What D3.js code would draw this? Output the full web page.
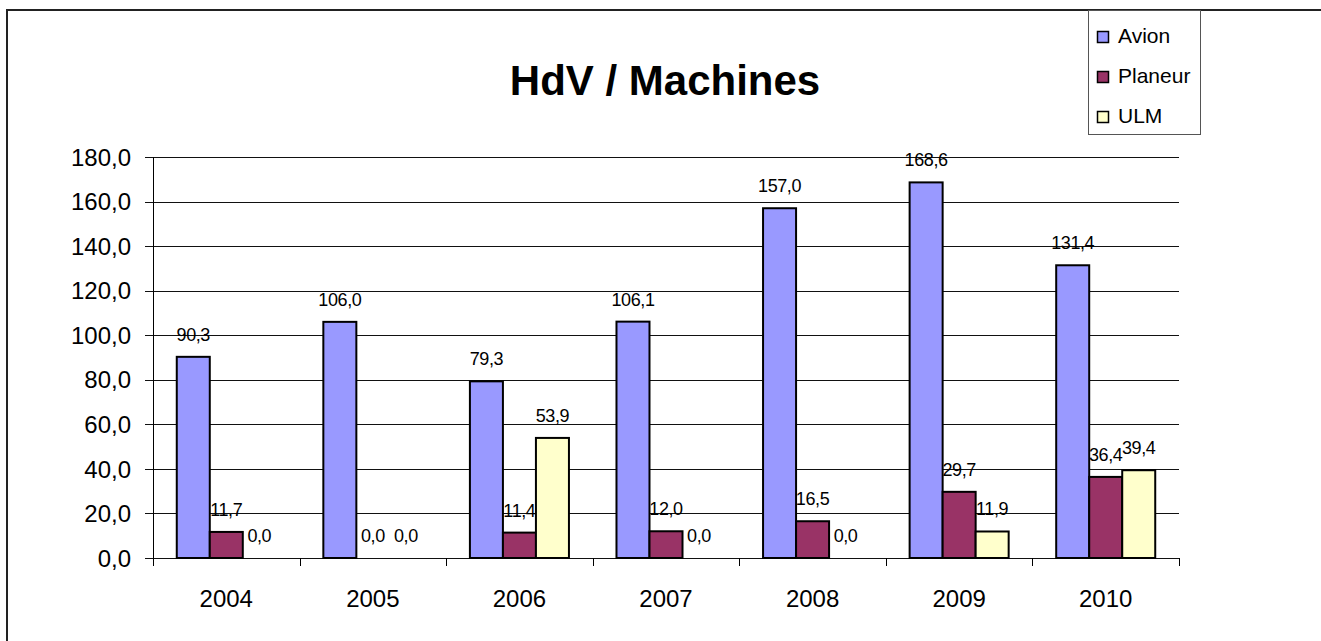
<!DOCTYPE html>
<html>
<head>
<meta charset="utf-8">
<script src="https://cdn.jsdelivr.net/npm/d3@7"></script>
<style>
  body { margin: 0; background: #fff; }
  svg { display: block; font-family: "Liberation Sans", Arial, sans-serif; }
</style>
</head>
<body>
<svg id="chart"></svg>
<script>
const width = 1321;
const height = 641;

// data
const years = ["2004", "2005", "2006", "2007", "2008", "2009", "2010"];
const series = ["Avion", "Planeur", "ULM"];
const avion = [90.3, 106.0, 79.3, 106.1, 157.0, 168.6, 131.4];
const planeur = [11.7, 0.0, 11.4, 12.0, 16.5, 29.7, 36.4];
const ulm = [0.0, 0.0, 53.9, 0.0, 0.0, 11.9, 39.4];
const yTicks = [0, 20, 40, 60, 80, 100, 120, 140, 160, 180];
const colors = ["#9999FF", "#993366", "#FFFFCC"];

const values = [avion, planeur, ulm];
const rows = years.map((y, i) => ({
  year: y,
  vals: series.map((s, j) => ({ key: s, value: values[j][i] }))
}));

const fr = d3.formatLocale({ decimal: ",", thousands: " ", grouping: [3], currency: ["", " €"] });
const fmt = fr.format(".1f");

const svg = d3.select("#chart")
  .attr("width", width)
  .attr("height", height);

// outer frame (only top and left visible)
svg.append("path")
  .attr("d", "M7,641 V10 H1321")
  .attr("fill", "none")
  .attr("stroke", "#222")
  .attr("stroke-width", 2);

const x0 = d3.scaleBand()
  .domain(years)
  .range([153, 1179]);

const x1 = d3.scaleBand()
  .domain(series)
  .range([0, x0.bandwidth()])
  .paddingOuter(0.72);

const y = d3.scaleLinear()
  .domain([0, 180])
  .range([558, 157]);

const color = d3.scaleOrdinal().domain(series).range(colors);

// gridlines
svg.append("g")
  .selectAll("line")
  .data(yTicks)
  .join("line")
    .attr("x1", 145)
    .attr("x2", 1179)
    .attr("y1", d => Math.round(y(d)) + 0.5)
    .attr("y2", d => Math.round(y(d)) + 0.5)
    .attr("stroke", "#111")
    .attr("stroke-width", 1);

// y labels
svg.append("g")
  .selectAll("text")
  .data(yTicks)
  .join("text")
    .attr("x", 131)
    .attr("y", d => y(d))
    .attr("dy", "0.36em")
    .attr("text-anchor", "end")
    .attr("font-size", 24)
    .attr("fill", "#000")
    .text(d => fmt(d));

// y axis line
svg.append("line")
  .attr("x1", 153.5).attr("x2", 153.5)
  .attr("y1", 157).attr("y2", 566)
  .attr("stroke", "#000");

// category ticks
const bounds = years.map(d => x0(d)).concat([x0.range()[1]]);
svg.append("g")
  .selectAll("line")
  .data(bounds.slice(1))
  .join("line")
    .attr("x1", d => Math.round(d) + 0.5)
    .attr("x2", d => Math.round(d) + 0.5)
    .attr("y1", 558)
    .attr("y2", 566)
    .attr("stroke", "#000");

// x labels
svg.append("g")
  .selectAll("text")
  .data(years)
  .join("text")
    .attr("x", d => x0(d) + x0.bandwidth() / 2)
    .attr("y", 607)
    .attr("text-anchor", "middle")
    .attr("font-size", 24)
    .text(d => d);

// bars
const groups = svg.append("g")
  .selectAll("g")
  .data(rows)
  .join("g")
    .attr("transform", d => `translate(${x0(d.year)},0)`);

groups.selectAll("rect")
  .data(d => d.vals.filter(v => v.value > 0))
  .join("rect")
    .attr("x", d => x1(d.key))
    .attr("y", d => y(d.value))
    .attr("width", x1.bandwidth())
    .attr("height", d => y(0) - y(d.value))
    .attr("fill", d => color(d.key))
    .attr("stroke", "#000")
    .attr("stroke-width", 2);

groups.selectAll("text")
  .data(d => d.vals)
  .join("text")
    .attr("x", d => x1(d.key) + x1.bandwidth() / 2)
    .attr("y", d => y(d.value) - 16)
    .attr("text-anchor", "middle")
    .attr("font-size", 18)
    .attr("letter-spacing", "-0.4")
    .text(d => fmt(d.value));

// title
svg.append("text")
  .attr("x", 665)
  .attr("y", 95)
  .attr("text-anchor", "middle")
  .attr("font-size", 42)
  .attr("font-weight", "bold")
  .text("HdV / Machines");

// legend
const legend = svg.append("g");
legend.append("rect")
  .attr("x", 1088.5)
  .attr("y", 10.5)
  .attr("width", 112)
  .attr("height", 124)
  .attr("fill", "#fff")
  .attr("stroke", "#555");

const items = legend.selectAll("g")
  .data(series)
  .join("g")
    .attr("transform", (d, i) => `translate(1097,${43 + i * 40})`);

items.append("rect")
  .attr("x", 0.5)
  .attr("y", -11.5)
  .attr("width", 11)
  .attr("height", 11)
  .attr("fill", d => color(d))
  .attr("stroke", "#000")
  .attr("stroke-width", 1.5);

items.append("text")
  .attr("x", 21)
  .attr("y", 0)
  .attr("font-size", 21)
  .text(d => d);
</script>
</body>
</html>
